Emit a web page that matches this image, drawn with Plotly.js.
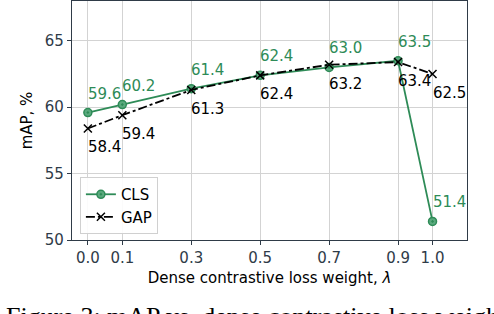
<!DOCTYPE html>
<html><head><meta charset="utf-8">
<script src="https://cdn.plot.ly/plotly-3.0.1.min.js"></script>
<style>html,body{margin:0;padding:0;background:#fff}#c{width:494px;height:314px}</style>
</head><body><div id="c"></div>
<script>
const lambdas = [0.0, 0.1, 0.3, 0.5, 0.7, 0.9, 1.0];
const clsMAP = [59.6, 60.2, 61.4, 62.4, 63.0, 63.5, 51.4];
const gapMAP = [58.4, 59.4, 61.3, 62.4, 63.2, 63.4, 62.5];
const tickVals = [0.0, 0.1, 0.3, 0.5, 0.7, 0.9, 1.0];
const tickText = ['0.0', '0.1', '0.3', '0.5', '0.7', '0.9', '1.0'];
const yTicks = [50, 55, 60, 65];

const green = '#2e8b57';
const font = 'DejaVu Sans, sans-serif';
const tickColor = '#2f3b48';

const traces = [
  {x: lambdas, y: clsMAP, name: 'CLS', mode: 'lines+markers',
   line: {color: green, width: 1.8},
   marker: {symbol: 'circle-dot', size: 8, color: '#5aa97d', line: {color: green, width: 1.5}}},
  {x: lambdas, y: gapMAP, name: 'GAP', mode: 'lines+markers',
   line: {color: '#000', width: 1.8, dash: 'dashdot'},
   marker: {symbol: 'x-thin', size: 8, line: {color: '#000', width: 1.5}}}
];

const labelAnn = [];
lambdas.forEach((lx, i) => {
  labelAnn.push({x: lx, y: clsMAP[i], xref: 'x', yref: 'y', text: clsMAP[i].toFixed(1),
    showarrow: false, xanchor: 'left', yanchor: 'middle', xshift: -2, yshift: 19,
    font: {family: font, size: 15, color: green}});
  labelAnn.push({x: lx, y: gapMAP[i], xref: 'x', yref: 'y', text: gapMAP[i].toFixed(1),
    showarrow: false, xanchor: 'left', yanchor: 'middle', xshift: -2, yshift: -19,
    font: {family: font, size: 15, color: '#000'}});
});

const layout = {
  width: 494, height: 314,
  margin: {l: 72, r: 27, t: 1, b: 74},
  paper_bgcolor: '#fff', plot_bgcolor: '#fff',
  font: {family: font, size: 15, color: '#000'},
  showlegend: true,
  legend: {x: 0.02, y: 0.025, xanchor: 'left', yanchor: 'bottom',
    bgcolor: 'rgba(255,255,255,0.9)', bordercolor: '#d0d0d0', borderwidth: 1,
    font: {family: font, size: 15, color: '#000'}, tracegroupgap: 2},
  xaxis: {range: [-0.046, 1.1], tickvals: tickVals, ticktext: tickText,
    showgrid: true, gridcolor: '#d3d3d3', gridwidth: 1,
    showline: true, linecolor: tickColor, linewidth: 1.2, mirror: true,
    ticks: 'outside', ticklen: 4, tickcolor: tickColor,
    tickfont: {family: font, size: 15, color: tickColor}, zeroline: false,
    title: {text: 'Dense contrastive loss weight, <i>λ</i>', standoff: 6,
      font: {family: font, size: 15, color: '#000'}}},
  yaxis: {range: [50, 68], tickvals: yTicks,
    showgrid: true, gridcolor: '#d3d3d3', gridwidth: 1,
    showline: true, linecolor: tickColor, linewidth: 1.2, mirror: true,
    ticks: 'outside', ticklen: 4, tickcolor: tickColor,
    tickfont: {family: font, size: 15, color: tickColor}, zeroline: false,
    title: {text: 'mAP, %', standoff: 8, font: {family: font, size: 15, color: '#000'}}},
  annotations: labelAnn.concat([{xref: 'paper', yref: 'paper', x: -0.172, y: -0.252, xanchor: 'left', yanchor: 'top',
    text: 'Figure 3: mAP vs. dense contrastive loss weight', showarrow: false,
    font: {family: 'Liberation Serif, serif', size: 26, color: '#000'}}])
};
Plotly.newPlot('c', traces, layout, {displayModeBar: false, staticPlot: true});
</script></body></html>
